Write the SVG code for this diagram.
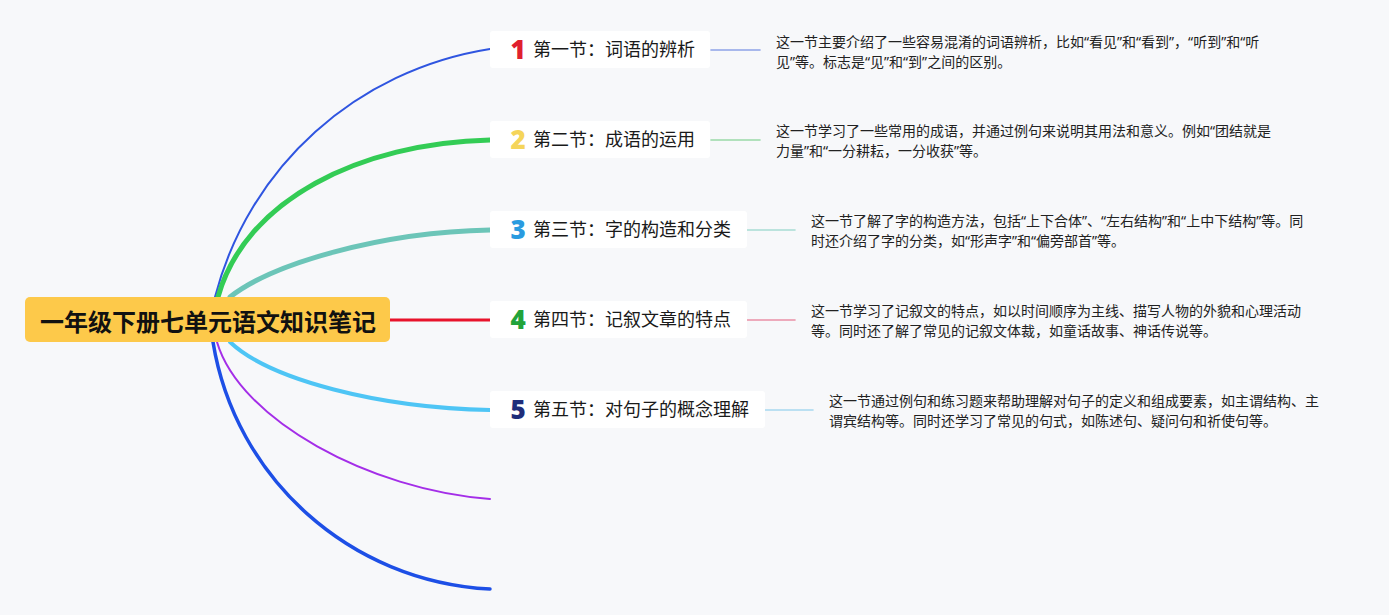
<svg xmlns="http://www.w3.org/2000/svg" width="1389" height="615" viewBox="0 0 1389 615">
<style>
.bg{fill:#f7f8fa}
.card{fill:#ffffff}
.title{font-family:"Noto Sans CJK SC","Noto Sans",sans-serif;font-size:18px;fill:#1a1a1a}
.num{font-family:"Noto Sans","Noto Sans CJK SC",sans-serif;font-size:26px;font-weight:900}
.desc{font-family:"Noto Sans","Noto Sans CJK SC",sans-serif;font-size:14px;fill:#222}
.root{font-family:"Noto Sans CJK SC","Noto Sans",sans-serif;font-size:24px;font-weight:bold;fill:#111}
.c{fill:none;stroke-linecap:round}
.l{stroke-width:1.6}
</style>
<rect class="bg" x="0" y="0" width="1389" height="615"/>
<g id="connectors">
<path class="c" d="M215,297 C249,166 357,70 490,49" stroke="#2f55e0" stroke-width="2"/>
<path class="c" d="M218,297 C245,200 360,143 490,140" stroke="#33cc55" stroke-width="5"/>
<path class="c" d="M230,297 C272,264 380,232 490,230" stroke="#6cc5b8" stroke-width="5"/>
<path class="c" d="M390,320 L490,320" stroke="#e8132b" stroke-width="3"/>
<path class="c" d="M230,342 C270,380 380,408 490,410" stroke="#4ec5f5" stroke-width="4"/>
<path class="c" d="M217,342 C240,420 370,490 490,499" stroke="#a42ee8" stroke-width="2"/>
<path class="c" d="M213,342 C235,478 350,582 490,589" stroke="#1d4fe6" stroke-width="3.5"/>
<path class="c l" d="M711,50 L760,50" stroke="#8ea3e8"/>
<path class="c l" d="M711,140 L760,140" stroke="#9ad9a8"/>
<path class="c l" d="M747,230 L795,230" stroke="#a8dcd3"/>
<path class="c l" d="M747,320 L795,320" stroke="#ea90a6"/>
<path class="c l" d="M765,410 L813,410" stroke="#a8d8f0"/>
</g>
<g id="root">
<rect x="25" y="297" width="365" height="45" rx="5" fill="#fdc94a"/>
<text class="root" x="208" y="331" text-anchor="middle">一年级下册七单元语文知识笔记</text>
</g>
<g id="node1">
<rect class="card" x="490" y="31" width="220" height="37" rx="3"/>
<text class="num" x="518" y="59" text-anchor="middle" fill="#e0202e">1</text>
<text class="title" x="533" y="56">第一节：词语的辨析</text>
</g>
<g id="desc1">
<text class="desc" x="776" y="47">这一节主要介绍了一些容易混淆的词语辨析，比如“看见”和“看到”，“听到”和“听</text>
<text class="desc" x="776" y="67">见”等。标志是“见”和“到”之间的区别。</text>
</g>
<g id="node2">
<rect class="card" x="490" y="121" width="220" height="37" rx="3"/>
<text class="num" x="518" y="149" text-anchor="middle" fill="#f5d55a">2</text>
<text class="title" x="533" y="146">第二节：成语的运用</text>
</g>
<g id="desc2">
<text class="desc" x="776" y="136">这一节学习了一些常用的成语，并通过例句来说明其用法和意义。例如“团结就是</text>
<text class="desc" x="776" y="156">力量”和“一分耕耘，一分收获”等。</text>
</g>
<g id="node3">
<rect class="card" x="490" y="211" width="257" height="37" rx="3"/>
<text class="num" x="518" y="239" text-anchor="middle" fill="#2a9be0">3</text>
<text class="title" x="533" y="236">第三节：字的构造和分类</text>
</g>
<g id="desc3">
<text class="desc" x="811" y="226">这一节了解了字的构造方法，包括“上下合体”、“左右结构”和“上中下结构”等。同</text>
<text class="desc" x="811" y="246">时还介绍了字的分类，如“形声字”和“偏旁部首”等。</text>
</g>
<g id="node4">
<rect class="card" x="490" y="301" width="257" height="37" rx="3"/>
<text class="num" x="518" y="329" text-anchor="middle" fill="#22a33a">4</text>
<text class="title" x="533" y="326">第四节：记叙文章的特点</text>
</g>
<g id="desc4">
<text class="desc" x="811" y="316">这一节学习了记叙文的特点，如以时间顺序为主线、描写人物的外貌和心理活动</text>
<text class="desc" x="811" y="336">等。同时还了解了常见的记叙文体裁，如童话故事、神话传说等。</text>
</g>
<g id="node5">
<rect class="card" x="490" y="391" width="275" height="37" rx="3"/>
<text class="num" x="518" y="419" text-anchor="middle" fill="#1f2d7a">5</text>
<text class="title" x="533" y="416">第五节：对句子的概念理解</text>
</g>
<g id="desc5">
<text class="desc" x="829" y="406">这一节通过例句和练习题来帮助理解对句子的定义和组成要素，如主谓结构、主</text>
<text class="desc" x="829" y="426">谓宾结构等。同时还学习了常见的句式，如陈述句、疑问句和祈使句等。</text>
</g>
</svg>
